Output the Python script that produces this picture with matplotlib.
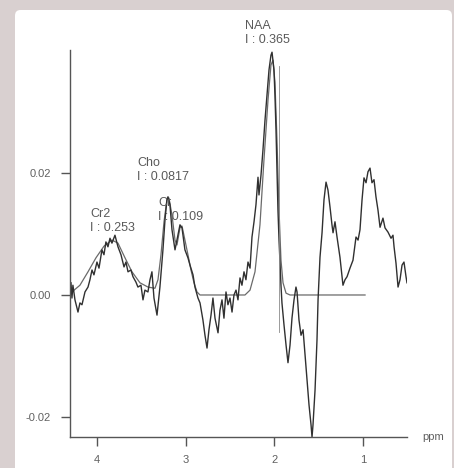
import numpy as np
import matplotlib
matplotlib.use('Agg')
import matplotlib.pyplot as plt
from matplotlib.patches import FancyBboxPatch

plt.rcParams['font.family'] = ['Liberation Sans', 'DejaVu Sans']

# measured spectrum (ppm, signal)
ppm = [4.293, 4.282, 4.271, 4.248, 4.214, 4.192, 4.169, 4.135, 4.101, 4.079,
       4.056, 4.034, 4.000, 3.977, 3.944, 3.921, 3.899, 3.876, 3.853, 3.831,
       3.797, 3.763, 3.729, 3.695, 3.673, 3.650, 3.617, 3.594, 3.560, 3.538,
       3.504, 3.481, 3.459, 3.425, 3.402, 3.380, 3.357, 3.323, 3.290, 3.256,
       3.233, 3.211, 3.199, 3.177, 3.154, 3.120, 3.098, 3.064, 3.041, 3.008,
       2.974, 2.951, 2.917, 2.895, 2.861, 2.838, 2.805, 2.782, 2.759, 2.737,
       2.714, 2.692, 2.669, 2.635, 2.613, 2.590, 2.568, 2.545, 2.523, 2.500,
       2.477, 2.455, 2.432, 2.410, 2.387, 2.365, 2.342, 2.320, 2.297, 2.274,
       2.252, 2.229, 2.207, 2.184, 2.173, 2.150, 2.128, 2.105, 2.083, 2.060,
       2.038, 2.026, 2.004, 1.993, 1.981, 1.970, 1.959, 1.947, 1.936, 1.925,
       1.914, 1.891, 1.868, 1.846, 1.823, 1.801, 1.778, 1.756, 1.744, 1.722,
       1.699, 1.676, 1.654, 1.631, 1.609, 1.586, 1.575, 1.564, 1.541, 1.519,
       1.507, 1.485, 1.462, 1.440, 1.417, 1.395, 1.372, 1.350, 1.338, 1.316,
       1.293, 1.260, 1.237, 1.226, 1.203, 1.180, 1.147, 1.113, 1.079, 1.056,
       1.034, 1.011, 0.989, 0.966, 0.944, 0.921, 0.899, 0.876, 0.854, 0.831,
       0.808, 0.775, 0.752, 0.718, 0.684, 0.662, 0.650, 0.628, 0.605, 0.583,
       0.560, 0.538, 0.515, 0.504]
signal = [0.0020, -0.0005, 0.0016, -0.0008, -0.0028, -0.0013, -0.0016, 0.0005, 0.0013, 0.0025,
          0.0041, 0.0033, 0.0054, 0.0044, 0.0074, 0.0066, 0.0087, 0.0079, 0.0093, 0.0085,
          0.0098, 0.0079, 0.0066, 0.0046, 0.0054, 0.0038, 0.0041, 0.0030, 0.0021, 0.0013,
          0.0016, -0.0008, 0.0008, 0.0005, 0.0025, 0.0038, -0.0005, -0.0033, 0.0013, 0.0074,
          0.0123, 0.0156, 0.0161, 0.0148, 0.0107, 0.0074, 0.0090, 0.0115, 0.0110, 0.0074,
          0.0061, 0.0049, 0.0033, 0.0013, -0.0005, -0.0013, -0.0041, -0.0066, -0.0087, -0.0057,
          -0.0033, -0.0005, -0.0038, -0.0062, -0.0025, -0.0008, -0.0038, 0.0005, -0.0016, -0.0005,
          -0.0028, 0.0000, 0.0008, -0.0008, 0.0028, 0.0016, 0.0038, 0.0025, 0.0054, 0.0044,
          0.0095, 0.0120, 0.0148, 0.0193, 0.0164, 0.0197, 0.0238, 0.0287, 0.0328, 0.0369,
          0.0393, 0.0398, 0.0369, 0.0328, 0.0270, 0.0205, 0.0139, 0.0090, 0.0054, 0.0016,
          -0.0013, -0.0049, -0.0082, -0.0111, -0.0082, -0.0038, -0.0008, 0.0013, 0.0005, -0.0041,
          -0.0066, -0.0057, -0.0098, -0.0139, -0.0180, -0.0213, -0.0233, -0.0213, -0.0156, -0.0074,
          -0.0008, 0.0062, 0.0102, 0.0156, 0.0185, 0.0172, 0.0144, 0.0115, 0.0102, 0.0120,
          0.0095, 0.0062, 0.0030, 0.0016, 0.0025, 0.0030, 0.0044, 0.0057, 0.0095, 0.0090,
          0.0107, 0.0156, 0.0192, 0.0184, 0.0202, 0.0208, 0.0184, 0.0189, 0.0161, 0.0139,
          0.0111, 0.0126, 0.0110, 0.0103, 0.0093, 0.0098, 0.0079, 0.0052, 0.0013, 0.0025,
          0.0049, 0.0054, 0.0030, 0.0020]

# fitted model (ppm, signal)
fit_ppm = [4.282, 4.192, 4.101, 4.011, 3.921, 3.831, 3.763, 3.684, 3.605, 3.515,
           3.425, 3.346, 3.312, 3.278, 3.244, 3.211, 3.188, 3.154, 3.120, 3.098,
           3.064, 3.041, 3.008, 2.974, 2.940, 2.906, 2.872, 2.838, 2.331, 2.274,
           2.218, 2.162, 2.117, 2.071, 2.038, 2.015, 1.993, 1.970, 1.947, 1.925,
           1.902, 1.868, 1.823, 0.977]
fit_signal = [0.0005, 0.0016, 0.0038, 0.0061, 0.0080, 0.0090, 0.0085, 0.0061, 0.0038, 0.0020,
              0.0013, 0.0011, 0.0025, 0.0066, 0.0120, 0.0156, 0.0159, 0.0131, 0.0090, 0.0082,
              0.0110, 0.0113, 0.0090, 0.0066, 0.0041, 0.0020, 0.0005, 0.0000, 0.0000, 0.0008,
              0.0038, 0.0115, 0.0221, 0.0320, 0.0377, 0.0385, 0.0349, 0.0254, 0.0139, 0.0057,
              0.0020, 0.0003, 0.0000, 0.0000]

# peak labels: name, integral, label position (ppm, signal)
peak_names = ['Cr2', 'Cho', 'Cr', 'NAA']
peak_integrals = ['0.253', '0.0817', '0.109', '0.365']
label_ppm = [4.079, 3.549, 3.312, 2.331]
label_sig = [0.0100, 0.0183, 0.0118, 0.0408]

naa_marker = 1.945

fig = plt.figure(figsize=(4.54, 4.68), dpi=100)
fig.patch.set_facecolor('#d9d0d0')
panel = FancyBboxPatch((15 / 454, -0.05), 437 / 454, 1.05 - 10 / 468,
                       boxstyle='round,pad=0,rounding_size=0.012',
                       transform=fig.transFigure, facecolor='white',
                       edgecolor='none', zorder=-10)
fig.patches.append(panel)

ax = fig.add_axes([70 / 454, 1 - 436.7 / 468, 337 / 454, 386.7 / 468])
ax.set_facecolor('none')
ax.set_zorder(5)

ax.plot(fit_ppm, fit_signal, color='#6a6a6a', lw=0.9)
ax.plot(ppm, signal, color='#303030', lw=1.0)
ax.plot([naa_marker, naa_marker], [0.0375, -0.006], color='#8a8a8a', lw=0.6)

for name, integ, lx, ly in zip(peak_names, peak_integrals, label_ppm, label_sig):
    ax.text(lx, ly, f'{name}\nI : {integ}', fontsize=9, color='#5a5a5a',
            ha='left', va='bottom', linespacing=1.25)

ax.set_xlim(4.304, 0.504)
ax.set_ylim(-0.02323, 0.04016)
ax.set_xticks([4, 3, 2, 1])
ax.set_xticklabels(['4', '3', '2', '1'])
ax.set_yticks([-0.02, 0.0, 0.02])
ax.set_yticklabels(['-0.02', '0.00', '0.02'])

for s in ['top', 'right']:
    ax.spines[s].set_visible(False)
for s in ['left', 'bottom']:
    ax.spines[s].set_color('#555555')
    ax.spines[s].set_linewidth(1.0)
ax.tick_params(axis='both', colors='#555555', labelcolor='#606060',
               labelsize=8, length=6.5, width=1.0, pad=7)

ax.text(1.045, 0.0, 'ppm', transform=ax.transAxes, fontsize=8,
        color='#606060', ha='left', va='center')

fig.savefig('out.png', dpi=100, facecolor=fig.get_facecolor())
